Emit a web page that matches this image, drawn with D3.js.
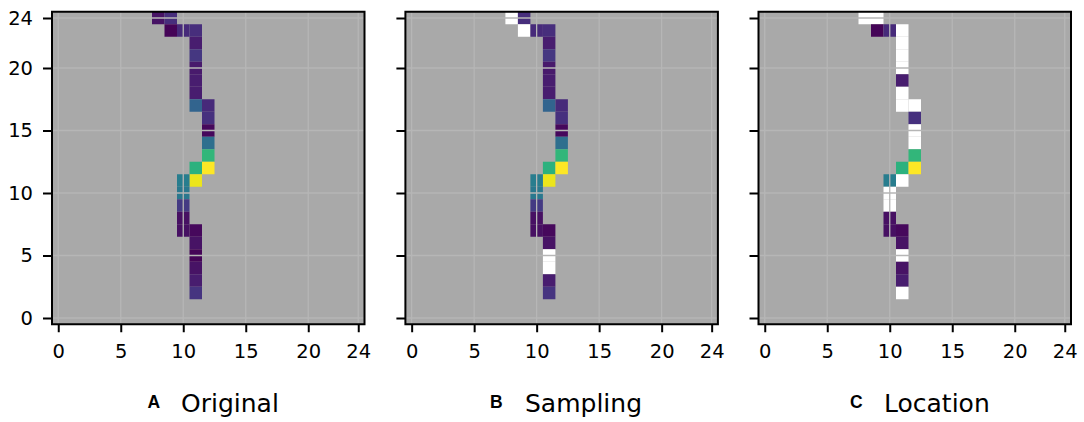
<!DOCTYPE html>
<html>
<meta charset="utf-8">
<title>Original, Sampling, Location</title>
<style>
    html, body { margin: 0; background: #fff; }
    svg { display: block; }
    text { font-family: "DejaVu Sans", sans-serif; fill: #000; }
    .tick text { font-size: 19.5px; }
    .tick line { stroke: #000; stroke-width: 2px; }
    .grid line { stroke: #b6b6b6; stroke-width: 1.3px; }
</style>
<script src="https://d3js.org/d3.v7.min.js" charset="utf-8"></script>
<body>
<script>
    // the non empty cells of the grid
    const cellCols = [8, 9, 9, 10, 11, 11, 11, 11, 11, 11, 11, 12, 12, 12, 12, 12, 11, 12, 11, 10, 10, 10, 10, 10, 11, 11, 11, 11, 11, 11]
    const cellRows = [24, 24, 23, 23, 23, 22, 21, 20, 19, 18, 17, 17, 16, 15, 14, 13, 12, 12, 11, 11, 10, 9, 8, 7, 7, 6, 5, 4, 3, 2]
    const cellValues = [0.05, 0.13, 0.01, 0.12, 0.13, 0.08, 0.16, 0.07, 0.08, 0.08, 0.32, 0.12, 0.14, 0.02, 0.36, 0.66, 0.64, 1.0, 0.97, 0.42, 0.40, 0.17, 0.04, 0.04, 0.02, 0.05, 0.01, 0.05, 0.08, 0.15]

    // cells that turn white in each panel, as "col,row"
    const originalWhite = []
    const samplingWhite = ["8,24", "9,23", "11,5", "11,4"]
    const locationWhite = ["8,24", "9,24", "11,23", "11,22", "11,21", "11,20", "11,18", "11,17", "12,17", "12,15", "12,14", "11,11", "10,10", "10,9", "11,5", "11,2"]

    const panelNames = ["Original", "Sampling", "Location"]
    const panelLetters = ["A", "B", "C"]
    const panelWhites = [originalWhite, samplingWhite, locationWhite]
    const xTicks = [0, 5, 10, 15, 20, 24]
    const yTicks = [0, 5, 10, 15, 20, 24]

    const size = 312.5
    const panelLeft = [52, 405.4, 758.5]
    const panelTop = 11.75
    const letterX = [147.5, 490, 850]
    const nameX = [181, 525, 884]

    const x = d3.scaleLinear().domain([-0.5, 24.5]).range([0, size])
    const y = d3.scaleLinear().domain([-0.5, 24.5]).range([size, 0])
    const color = d3.scaleSequential(d3.interpolateViridis).domain([0, 1])

    const cells = cellCols.map((c, i) => ({ col: c, row: cellRows[i], value: cellValues[i] }))

    const svg = d3.select("body").append("svg").attr("width", 1084).attr("height", 422)

    panelNames.forEach((name, p) => {
        const g = svg.append("g").attr("transform", `translate(${panelLeft[p]},${panelTop})`)
        const white = panelWhites[p]

        g.append("rect").attr("width", size).attr("height", size).attr("fill", "#a9a9a9")

        g.selectAll("rect.cell")
            .data(cells)
            .enter().append("rect")
            .attr("class", "cell")
            .attr("x", d => x(d.col - 0.5))
            .attr("y", d => y(d.row + 0.5))
            .attr("width", d => x(d.col + 0.5) - x(d.col - 0.5))
            .attr("height", d => y(d.row - 0.5) - y(d.row + 0.5))
            .attr("fill", d => white.includes(`${d.col},${d.row}`) ? "#fff" : color(d.value))

        // grid sits on top of the cells
        const grid = g.append("g").attr("class", "grid")
        grid.selectAll("line.v").data(xTicks).enter().append("line")
            .attr("x1", d => x(d)).attr("x2", d => x(d)).attr("y1", 0).attr("y2", size)
        grid.selectAll("line.h").data(yTicks).enter().append("line")
            .attr("y1", d => y(d)).attr("y2", d => y(d)).attr("x1", 0).attr("x2", size)

        const xAxis = g.append("g").attr("transform", `translate(0,${size})`)
            .call(d3.axisBottom(x).tickValues(xTicks).tickSize(8).tickPadding(12))
        xAxis.select(".domain").remove()

        const yAxis = g.append("g")
            .call(d3.axisLeft(y).tickValues(yTicks).tickSize(9).tickPadding(10)
                .tickFormat(p === 0 ? d3.format("d") : ""))
        yAxis.select(".domain").remove()

        g.append("rect").attr("width", size).attr("height", size)
            .attr("fill", "none").attr("stroke", "#000").attr("stroke-width", 2)

        svg.append("text").attr("x", letterX[p]).attr("y", 408)
            .style("font-family", "Liberation Sans").style("font-weight", "bold").style("font-size", "17.5px")
            .text(panelLetters[p])
        svg.append("text").attr("x", nameX[p]).attr("y", 412)
            .style("font-size", "25px")
            .text(name)
    })
</script>
</body>
</html>
